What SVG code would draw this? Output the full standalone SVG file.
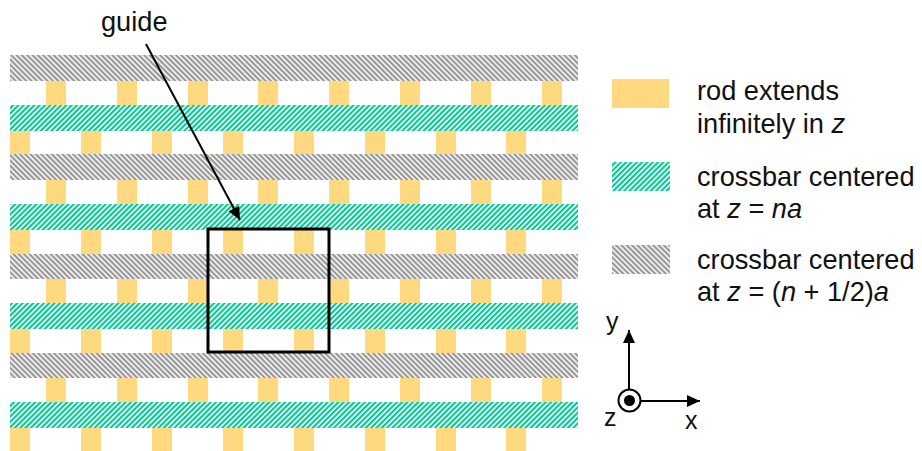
<svg xmlns="http://www.w3.org/2000/svg" width="922" height="451" viewBox="0 0 922 451">
<style>
text{font-family:"Liberation Sans",Arial,sans-serif;font-size:27.2px;fill:#111}
text.ax{font-size:25px}
.r{fill:#ffd97f}
.g{fill:url(#gray)}
.t{fill:url(#teal)}
.l{stroke:#000;stroke-width:2;fill:none}
</style>
<defs>
<pattern id="gray" width="4" height="4" patternUnits="userSpaceOnUse" patternTransform="rotate(45 0 0) scale(.94)">
<rect width="4" height="4" fill="#f6f6f6"/><rect width="4" height="2.200" fill="#969696"/>
</pattern>
<pattern id="teal" width="4" height="4" patternUnits="userSpaceOnUse" patternTransform="rotate(-45 0 0) scale(.94)">
<rect width="4" height="4" fill="#f0fbf8"/><rect width="4" height="2.200" fill="#08c596"/>
</pattern>
<marker id="a" markerUnits="userSpaceOnUse" markerWidth="14" markerHeight="14" refX="13" refY="6" orient="auto"><path d="M0 0L13 6L0 12z" fill="#000"/></marker>
<g id="rA" class="r"><rect x="46" width="20" height="24"/><rect x="117" width="20" height="24"/><rect x="188" width="20" height="24"/><rect x="258" width="20" height="24"/><rect x="329" width="20" height="24"/><rect x="400" width="20" height="24"/><rect x="471" width="20" height="24"/><rect x="542" width="20" height="24"/></g>
<g id="rB" class="r"><rect x="10" width="20" height="24"/><rect x="81" width="20" height="24"/><rect x="152" width="20" height="24"/><rect x="223" width="20" height="24"/><rect x="294" width="20" height="24"/><rect x="365" width="20" height="24"/><rect x="436" width="20" height="24"/><rect x="506" width="20" height="24"/></g>
</defs>
<g id="rods">
<use href="#rA" y="81"/><use href="#rB" y="131"/><use href="#rA" y="180"/><use href="#rB" y="230"/><use href="#rA" y="279"/><use href="#rB" y="329"/><use href="#rA" y="378"/><use href="#rB" y="428"/>
</g>
<g id="crossbars">
<rect class="g" x="10" y="55" width="568" height="26"/>
<rect class="t" x="10" y="105" width="568" height="26"/>
<rect class="g" x="10" y="154" width="568" height="26"/>
<rect class="t" x="10" y="204" width="568" height="26"/>
<rect class="g" x="10" y="254" width="568" height="25"/>
<rect class="t" x="10" y="303" width="568" height="26"/>
<rect class="g" x="10" y="353" width="568" height="25"/>
<rect class="t" x="10" y="402" width="568" height="26"/>
</g>
<g id="connectors">
<path class="l" d="M146 44L240 220" marker-end="url(#a)"/>
<path class="l" d="M629 390V330" marker-end="url(#a)"/>
<path class="l" d="M641 401H700" marker-end="url(#a)"/>
</g>
<g id="frame"><rect x="208" y="229" width="121" height="123" fill="none" stroke="#000" stroke-width="3"/></g>
<g id="guide-label"><text x="101" y="31">guide</text></g>
<g id="legend-rod"><rect class="r" x="612" y="79" width="57" height="29"/><text x="697" y="100">rod extends</text><text x="697" y="133">infinitely in <tspan font-style="italic">z</tspan></text></g>
<g id="legend-teal"><rect class="t" x="612" y="162" width="58" height="29"/><text x="697" y="186">crossbar centered</text><text x="697" y="218">at <tspan font-style="italic">z</tspan> = <tspan font-style="italic">na</tspan></text></g>
<g id="legend-gray"><rect class="g" x="612" y="245" width="58" height="29"/><text x="697" y="269">crossbar centered</text><text x="697" y="301">at <tspan font-style="italic">z</tspan> = (<tspan font-style="italic">n</tspan> + 1/2)<tspan font-style="italic">a</tspan></text></g>
<g id="axes">
<circle cx="629.500" cy="400.500" r="11" fill="#fff" stroke="#000" stroke-width="2"/>
<circle cx="629.500" cy="400.500" r="5.500" fill="#000"/>
<text class="ax" x="606" y="330">y</text><text class="ax" x="685" y="429">x</text><text class="ax" x="604" y="426">z</text>
</g>
</svg>
